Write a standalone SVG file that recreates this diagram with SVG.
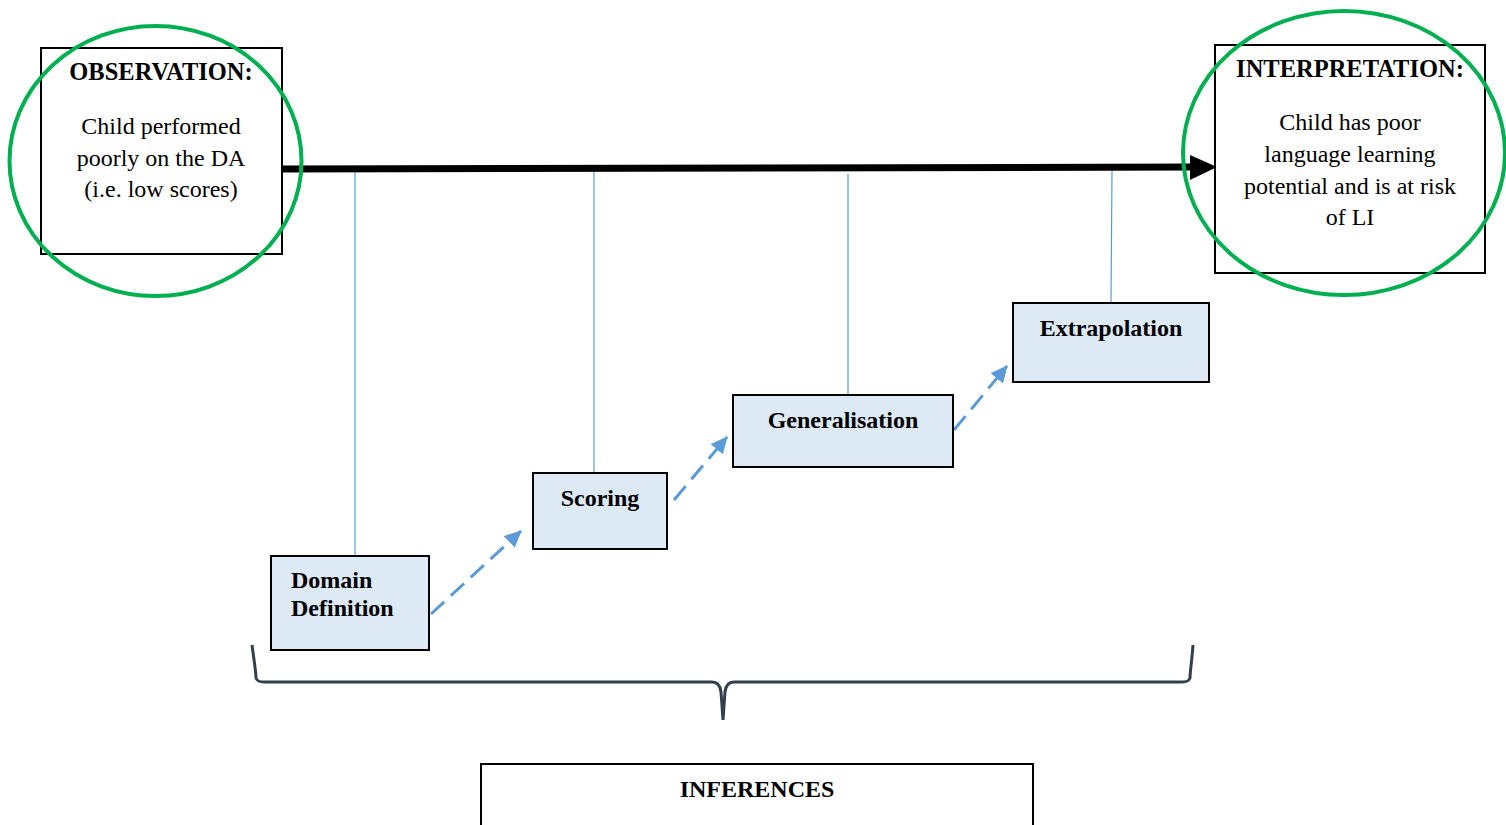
<svg xmlns="http://www.w3.org/2000/svg" width="1506" height="825" viewBox="0 0 1506 825">
  <style>
    .box { fill: #ffffff; stroke: #000000; stroke-width: 2; }
    .step { fill: #dde9f5; stroke: #000000; stroke-width: 2; }
    .ring { fill: none; stroke: #00b050; stroke-width: 4; }
    .tick { stroke: #5b9bd5; stroke-width: 1.2; fill: none; }
    .dash { stroke: #5b9bd5; stroke-width: 3; stroke-dasharray: 18 9; fill: none; }
    .brace { stroke: #333f50; stroke-width: 3; fill: none; }
    text { font-family: "Liberation Serif", "Times New Roman", serif; font-size: 24px; fill: #000000; }
    .b { font-weight: bold; }
    .h { font-size: 24.5px; }
    .c { text-anchor: middle; }
  </style>
  <defs>
    <marker id="blueHead" markerWidth="18" markerHeight="16" refX="16" refY="8" orient="auto" markerUnits="userSpaceOnUse">
      <path d="M0,0 L17,8 L0,16 Z" fill="#5b9bd5"/>
    </marker>
  </defs>

  <!-- thin leaders from the timeline to each inference step -->
  <g id="connectors">
    <line class="tick" x1="355" y1="172" x2="355" y2="555"/>
    <line class="tick" x1="594" y1="172" x2="594" y2="472"/>
    <line class="tick" x1="848" y1="174" x2="848" y2="394"/>
    <line class="tick" x1="1112" y1="171" x2="1111" y2="303"/>

    <!-- dashed progression between steps -->
    <line class="dash" x1="431" y1="614" x2="521" y2="531" marker-end="url(#blueHead)"/>
    <line class="dash" x1="674" y1="500" x2="727" y2="437" marker-end="url(#blueHead)"/>
    <line class="dash" x1="954" y1="430" x2="1007" y2="366" marker-end="url(#blueHead)"/>

    <!-- main timeline arrow -->
    <line x1="282" y1="169" x2="1192" y2="167" stroke="#000000" stroke-width="7"/>
    <path d="M1190,155 L1217,167 L1190,180 Z" fill="#000000"/>

    <!-- curly brace grouping the inferences -->
    <path class="brace" d="M252,645 C254,660 256,672 256,678 Q257,682 264,682 L712,682 Q720,682 721,692 L723,720 L725,692 Q726,682 734,682 L1182,682 Q1189,682 1190,678 C1190,672 1192,660 1193,645"/>
  </g>

  <g id="observation">
    <rect class="box" x="41" y="48" width="241" height="206"/>
    <text class="b c h" x="161" y="80">OBSERVATION:</text>
    <text class="c" x="161" y="134">Child performed</text>
    <text class="c" x="161" y="166">poorly on the DA</text>
    <text class="c" x="161" y="197">(i.e. low scores)</text>
    <ellipse class="ring" cx="155.5" cy="161" rx="146" ry="135"/>
  </g>

  <g id="interpretation">
    <rect class="box" x="1215" y="45" width="270" height="228"/>
    <text class="b c h" x="1350" y="77">INTERPRETATION:</text>
    <text class="c" x="1350" y="130">Child has poor</text>
    <text class="c" x="1350" y="162">language learning</text>
    <text class="c" x="1350" y="194">potential and is at risk</text>
    <text class="c" x="1350" y="225">of LI</text>
    <ellipse class="ring" cx="1344" cy="153" rx="161" ry="142"/>
  </g>

  <g id="domain-definition">
    <rect class="step" x="271" y="556" width="158" height="94"/>
    <text class="b" x="291" y="588">Domain</text>
    <text class="b" x="291" y="616">Definition</text>
  </g>

  <g id="scoring">
    <rect class="step" x="533" y="473" width="134" height="76"/>
    <text class="b c" x="600" y="506">Scoring</text>
  </g>

  <g id="generalisation">
    <rect class="step" x="733" y="395" width="220" height="72"/>
    <text class="b c" x="843" y="428">Generalisation</text>
  </g>

  <g id="extrapolation">
    <rect class="step" x="1013" y="303" width="196" height="79"/>
    <text class="b c" x="1111" y="336">Extrapolation</text>
  </g>

  <g id="inferences">
    <rect class="box" x="481" y="764" width="552" height="80"/>
    <text class="b c" x="757" y="797">INFERENCES</text>
  </g>
</svg>
